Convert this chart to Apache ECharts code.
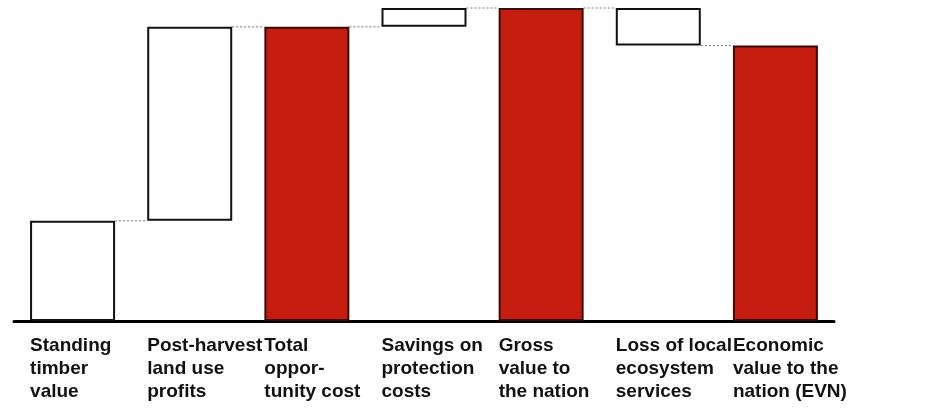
<!DOCTYPE html>
<html>
<head>
<meta charset="utf-8">
<script src="https://cdn.jsdelivr.net/npm/echarts@6/dist/echarts.min.js"></script>
<style>
html,body{margin:0;padding:0;background:#fff}
#chart{width:925px;height:410px}
</style>
</head>
<body>
<div id="chart"></div>
<script>
// categories (labels broken as in the original)
var categories=['Standing\ntimber\nvalue','Post-harvest\nland use\nprofits','Total\noppor-\ntunity cost','Savings on\nprotection\ncosts','Gross\nvalue to\nthe nation','Loss of local\necosystem\nservices','Economic\nvalue to the\nnation (EVN)'];
// invisible base of each floating bar
var baseValues=[0,32,0,94,0,88,0];
// visible height of each bar
var barValues=[32,62,94,6,100,12,88];
// totals are drawn red
var isTotal=[false,false,true,false,true,false,true];
// level of the dotted connector between bar i and bar i+1
var connectLevels=[32,94,94,100,100,88];

var BAR_W=85;
var chart=echarts.init(document.getElementById('chart'));

var visData=barValues.map(function(v,i){
	return {
		value:v,
		itemStyle:{
			color:isTotal[i]?'#c41c0e':'#ffffff',
			borderColor:isTotal[i]?'#3a0c06':'#111111',
			borderWidth:2
		}
	};
});

var option={
	backgroundColor:'#ffffff',
	animation:false,
	grid:{left:14,right:91,top:8,bottom:89},
	xAxis:{
		type:'category',
		data:categories,
		axisLine:{show:true,lineStyle:{color:'#000',width:3}},
		axisTick:{show:false},
		axisLabel:{show:false}
	},
	yAxis:{
		type:'value',min:0,max:100,
		show:false,
		splitLine:{show:false}
	},
	series:[
		{
			type:'bar',stack:'w',data:baseValues,barWidth:BAR_W,
			itemStyle:{color:'transparent'},silent:true
		},
		{
			type:'bar',stack:'w',data:visData,barWidth:BAR_W
		},
		{
			// dotted connectors
			type:'custom',clip:false,
			data:connectLevels.map(function(v,i){return [i,v];}),
			renderItem:function(params,api){
				var i=api.value(0),lvl=api.value(1);
				var p1=api.coord([i,lvl]);
				var p2=api.coord([i+1,lvl]);
				return {
					type:'line',
					shape:{x1:p1[0]+BAR_W/2,y1:p1[1],x2:p2[0]-BAR_W/2,y2:p2[1]},
					style:{stroke:'#777',lineWidth:1,lineDash:[2,2]}
				};
			}
		},
		{
			// category labels, left-aligned with each bar
			type:'custom',clip:false,
			data:categories.map(function(c,i){return [i,0];}),
			renderItem:function(params,api){
				var i=api.value(0);
				var p=api.coord([i,0]);
				return {
					type:'text',
					x:p[0]-BAR_W/2,y:p[1]+13,
					style:{
						text:categories[i],
						fill:'#111',
						font:'bold 19px "Liberation Sans", Arial, sans-serif',
						lineHeight:23,
						align:'left',verticalAlign:'top'
					}
				};
			}
		}
	]
};
chart.setOption(option);
</script>
</body>
</html>
